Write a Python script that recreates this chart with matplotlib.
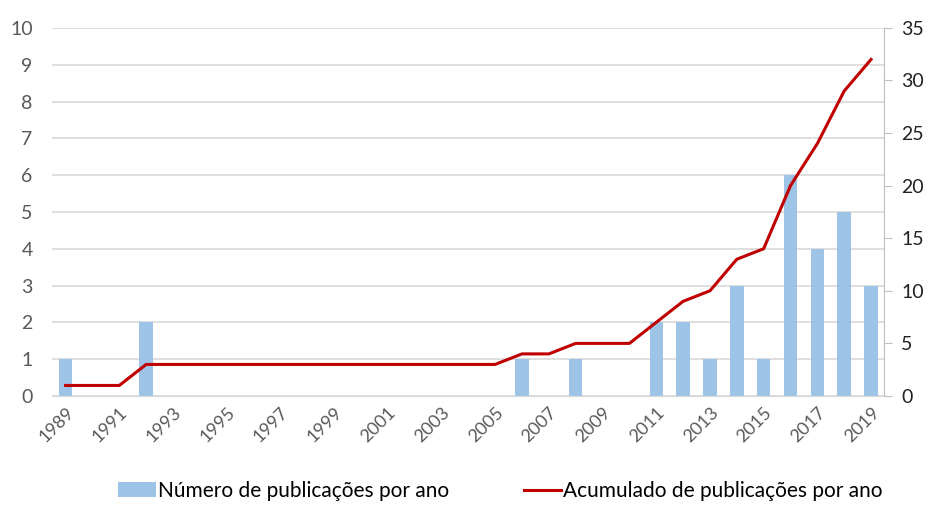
import numpy as np
import matplotlib.pyplot as plt

plt.rcParams['font.family'] = ['Lato', 'DejaVu Sans']

years = list(range(1989, 2020))
per_year = [1, 0, 0, 2, 0, 0, 0, 0, 0, 0, 0, 0, 0, 0, 0, 0, 0, 1, 0, 1, 0, 0,
            2, 2, 1, 3, 1, 6, 4, 5, 3]
cumulative = [1, 1, 1, 3, 3, 3, 3, 3, 3, 3, 3, 3, 3, 3, 3, 3, 3, 4, 4, 5, 5, 5,
              7, 9, 10, 13, 14, 20, 24, 29, 32]

x = np.arange(len(years))

fig = plt.figure(figsize=(9.32, 5.07), dpi=100)
ax = fig.add_axes([0.056, 0.219, 0.893, 0.726])
ax2 = ax.twinx()

grid_c = '#d9d9d9'
ax.bar(x, per_year, width=0.5, color='#9dc3e6', zorder=2,
       label='Número de publicações por ano')
ax.set_ylim(0, 10)
ax.set_yticks(range(0, 11))
ax.yaxis.grid(True, color=grid_c, linewidth=1.2, zorder=0)
ax.set_axisbelow(True)
ax.set_xlim(-0.5, len(years) - 0.5)
ax.set_xticks(x[::2])
ax.set_xticklabels([str(y) for y in years[::2]], rotation=45, ha='right',
                   rotation_mode='anchor')
ax.tick_params(axis='x', length=0, pad=6, labelsize=13, labelcolor='#595959')
ax.tick_params(axis='y', length=0, pad=14, labelsize=14, labelcolor='#595959')

line, = ax2.plot(x, cumulative, color='#c00000', linewidth=2.2, zorder=3,
                 label='Acumulado de publicações por ano')
ax2.set_ylim(0, 35)
ax2.set_yticks(range(0, 36, 5))
ax2.tick_params(axis='y', direction='out', length=6, color='#bfbfbf',
                labelsize=14, labelcolor='#222222', pad=6)

for a in (ax, ax2):
    for s in ('top', 'left'):
        a.spines[s].set_visible(False)
    a.spines['right'].set_visible(False)
    a.spines['bottom'].set_color(grid_c)
ax2.spines['right'].set_visible(True)
ax2.spines['right'].set_color('#bfbfbf')

handles = [ax.patches[0], line]
labels = ['Número de publicações por ano', 'Acumulado de publicações por ano']
fig.legend(handles, labels, loc='lower center', bbox_to_anchor=(0.537, -0.025),
           ncol=2, frameon=False, fontsize=15, handlelength=1.8,
           columnspacing=3.6, handletextpad=0.1)

fig.savefig('out.png', dpi=100)
